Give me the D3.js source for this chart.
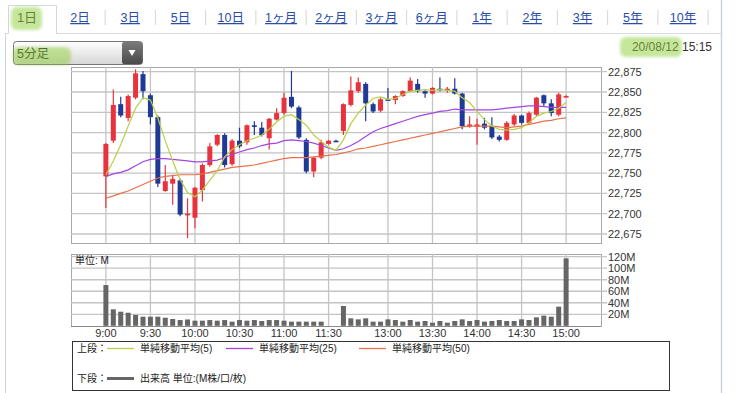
<!DOCTYPE html>
<html>
<head>
<meta charset="utf-8">
<script src="https://cdn.jsdelivr.net/npm/d3@7"></script>
<style>
  body { margin: 0; background: #fff; }
  svg text { font-family: "Liberation Sans", "Noto Sans CJK JP", sans-serif; }
</style>
</head>
<body>
<svg id="chart"></svg>
<script>
// 5 minute bars for 2020/08/12 (slots 30 and 31 are the lunch break)
const times = [
  "9:00","9:05","9:10","9:15","9:20","9:25","9:30","9:35","9:40","9:45","9:50","9:55",
  "10:00","10:05","10:10","10:15","10:20","10:25","10:30","10:35","10:40","10:45","10:50","10:55",
  "11:00","11:05","11:10","11:15","11:20","11:25","11:30","12:25",
  "12:30","12:35","12:40","12:45","12:50","12:55","13:00","13:05","13:10","13:15","13:20","13:25",
  "13:30","13:35","13:40","13:45","13:50","13:55","14:00","14:05","14:10","14:15","14:20","14:25",
  "14:30","14:35","14:40","14:45","14:50","14:55","15:00"
];
const open = [
  22746,22790,22835,22818,22843,22872,22846,22819,22728,22737,22741,22698,
  22695,22729,22760,22785,22797,22761,22790,22788,22809,22806,22793,22816,
  22824,22844,22831,22791,22752,22769,22786,22790,
  22802,22834,22851,22860,22835,22827,22841,22840,22845,22851,22860,22851,
  22848,22854,22852,22854,22848,22807,22807,22811,22808,22795,22791,22810,
  22821,22812,22822,22846,22836,22822,22844.5
];
const high = [
  22787,22853,22844,22847,22878,22876,22848,22821,22760,22748,22743,22719,
  22733,22762,22787,22798,22799,22792,22806,22810,22814,22813,22818,22830,
  22849,22876,22833,22793,22770,22791,22791,22791,
  22836,22869,22868,22862,22837,22843,22855,22846,22852,22868,22866,22852,
  22856,22868,22856,22867,22849,22820,22817,22818,22819,22797,22814,22823,
  22822,22826,22844,22847,22841,22849,22846
];
const low = [
  22707,22787,22819,22814,22841,22841,22810,22733,22727,22711,22697,22670,
  22682,22715,22758,22783,22757,22759,22781,22785,22797,22795,22779,22815,
  22822,22830,22792,22750,22745,22767,22785,22789,
  22797,22832,22849,22814,22824,22825,22839,22835,22844,22850,22849,22843,
  22847,22851,22849,22847,22804,22806,22785,22804,22792,22789,22790,22808,
  22810,22811,22820,22832,22820,22820,22844
];
const close = [
  22786,22834,22821,22845,22873,22851,22819,22737,22740,22743,22699,22700,
  22732,22760,22783,22797,22760,22790,22783,22809,22807,22797,22817,22824,
  22843,22832,22794,22752,22769,22788,22790,22789.5,
  22835,22852,22862,22836,22826,22841,22840,22845,22851,22864,22851,22848,
  22855,22853,22854,22848,22808,22810,22810,22806,22794,22791,22812,22821,
  22812,22824,22843,22836,22824,22847,22845
];
const sma5 = [
  22748,22765,22785,22808,22830,22843,22840,22818,22790,22765,22742,22726,
  22721,22729,22741,22753,22770,22779,22785,22790,22793,22797,22804,22813,
  22820,22822,22816,22809,22797,22789,22782,22778,
  22791,22811,22824,22834,22842,22844,22841,22842,22847,22851,22852,22853,
  22852,22853,22852,22851,22843,22837,22826,22816,22808,22804,22803,22804,
  22806,22812,22820,22824,22826,22830,22837
];
const sma25 = [
  22746,22749,22751,22754,22759,22764,22767,22768,22768,22767,22766,22765,
  22764,22764,22765,22766,22769,22773,22776,22779,22781,22784,22786,22787,
  22790,22791,22790,22789,22787,22784,22781,22778,
  22780,22784,22789,22795,22801,22805,22808,22811,22814,22817,22820,22822,
  22824,22826,22827,22829,22828,22828,22828,22828,22828,22829,22830,22831,
  22832,22833,22833,22832,22831,22831,22831
];
const sma50 = [
  22719,22722,22725,22728,22732,22736,22740,22744,22746,22747,22748,22748,
  22748,22749,22751,22753,22755,22757,22758,22759,22760,22762,22764,22766,
  22768,22769,22769,22769,22770,22771,22772,22773,
  22775,22777,22780,22781,22783,22785,22787,22789,22791,22793,22795,22797,
  22799,22801,22803,22805,22807,22808,22808,22808,22808,22807,22806,22807,
  22808,22810,22812,22814,22815,22817,22818
];
// volume in millions
const volume = [
  70.8,28.6,24.5,22.7,18.8,15.8,15.8,15.8,14,11.8,10,11,
  8.9,8.9,10,8.9,10,7.2,10,8.9,10,8.3,10,10,
  8.9,7.2,7.2,7.2,7.2,7.2,0,0,
  34.4,13,11.2,13,7.2,7.2,11.2,10.1,7.2,10.1,7.2,8.3,
  5.4,8.3,5.4,8.3,11.2,8.3,10.1,7.2,8.3,10.1,8.3,8.3,
  11.2,10.1,14.7,17.6,15.8,33.2,117.2
];

const priceTicks = [22675,22700,22725,22750,22775,22800,22825,22850,22875];
const volTicks = [20,40,60,80,100,120];
const timeTicks = ["9:00","9:30","10:00","10:30","11:00","11:30","13:00","13:30","14:00","14:30","15:00"];
const periods = ["1日","2日","3日","5日","10日","1ヶ月","2ヶ月","3ヶ月","6ヶ月","1年","2年","3年","5年","10年"];
const legendItems = [
  { label: "単純移動平均(5)", color: "#b9cf45" },
  { label: "単純移動平均(25)", color: "#a346e0" },
  { label: "単純移動平均(50)", color: "#e8704a" }
];

const svgWidth = 739;
const svgHeight = 393;
const plot = { left: 71, right: 601, top: 67, bottom: 243 };
const vplot = { top: 254, bottom: 326 };
const gridColor = "#c4c4c4";
const upColor = "#e8333d";
const downColor = "#1f3a96";

const svg = d3.select("#chart").attr("width", svgWidth).attr("height", svgHeight);

const defs = svg.append("defs");
const grad = defs.append("linearGradient").attr("id", "dd").attr("x1", 0).attr("x2", 0).attr("y1", 0).attr("y2", 1);
grad.append("stop").attr("offset", "0%").attr("stop-color", "#ffffff");
grad.append("stop").attr("offset", "100%").attr("stop-color", "#d6d6d6");
const btnGrad = defs.append("linearGradient").attr("id", "btn").attr("x1", 0).attr("x2", 0).attr("y1", 0).attr("y2", 1);
btnGrad.append("stop").attr("offset", "0%").attr("stop-color", "#7a7a7a");
btnGrad.append("stop").attr("offset", "100%").attr("stop-color", "#4a4a4a");
defs.append("filter").attr("id", "soft").append("feGaussianBlur").attr("stdDeviation", 1.6);

// ---- page frame and tabs ----
svg.append("rect").attr("x", 0).attr("y", 0).attr("width", svgWidth).attr("height", svgHeight).attr("fill", "#fff");
svg.append("line").attr("x1", 5.5).attr("x2", 5.5).attr("y1", 33).attr("y2", svgHeight).attr("stroke", "#c9d3de");
svg.append("line").attr("x1", 721.5).attr("x2", 721.5).attr("y1", 0).attr("y2", svgHeight).attr("stroke", "#c9d3de").attr("stroke-width", 1.5);
svg.append("line").attr("x1", 56).attr("x2", 721).attr("y1", 33.5).attr("y2", 33.5).attr("stroke", "#d8dfe6");
svg.append("path")
  .attr("d", "M5.5,33.5 L8.5,33.5 L8.5,5.5 L56.5,5.5 L56.5,33.5")
  .attr("fill", "none").attr("stroke", "#d0d8e0");

const tabX = d3.scalePoint().domain(periods.slice(1)).range([80, 683]);
svg.append("text").attr("x", 27).attr("y", 22).attr("text-anchor", "middle")
  .attr("font-size", 13).attr("fill", "#333").text(periods[0]);
svg.selectAll(".tab").data(periods.slice(1)).enter().append("text")
  .attr("class", "tab")
  .attr("x", (d) => tabX(d)).attr("y", 22).attr("text-anchor", "middle")
  .attr("font-size", 12.5).attr("fill", "#2a4ea8")
  .attr("text-decoration", "underline").text((d) => d);
svg.selectAll(".sep").data(periods.slice(1)).enter().append("line")
  .attr("class", "sep")
  .attr("x1", (d) => tabX(d) + tabX.step() / 2).attr("x2", (d) => tabX(d) + tabX.step() / 2)
  .attr("y1", 10).attr("y2", 25).attr("stroke", "#d5d5d5");

// dropdown
svg.append("rect").attr("x", 13.5).attr("y", 41.5).attr("width", 129).attr("height", 23).attr("rx", 3)
  .attr("fill", "url(#dd)").attr("stroke", "#777");
svg.append("rect").attr("x", 122).attr("y", 42).attr("width", 20.5).attr("height", 22).attr("rx", 2)
  .attr("fill", "url(#btn)");
svg.append("path").attr("d", "M128.5,50 L135.5,50 L132,56 Z").attr("fill", "#fff");
svg.append("text").attr("x", 17).attr("y", 58).attr("font-size", 12.5).attr("fill", "#222").text("5分足");

svg.append("text").attr("x", 712).attr("y", 51).attr("text-anchor", "end")
  .attr("font-size", 12).attr("fill", "#333").text("20/08/12 15:15");

// ---- scales ----
const x = d3.scalePoint().domain(times).range([plot.left, plot.right]).padding(4.7);
const y = d3.scaleLinear().domain([22675, 22875]).range([234, 71.7]);
const yv = d3.scaleLinear().domain([0, 120]).range([325.8, 256.7]);
const bodyW = 5;

// ---- price panel grid ----
const gp = svg.append("g");
gp.append("rect").attr("x", plot.left + 0.5).attr("y", plot.top + 0.5)
  .attr("width", plot.right - plot.left).attr("height", plot.bottom - plot.top)
  .attr("fill", "#fff").attr("stroke", "#a8a8a8");
gp.selectAll(".hgrid").data(priceTicks).enter().append("line")
  .attr("x1", plot.left).attr("x2", plot.right + 6)
  .attr("y1", (d) => y(d)).attr("y2", (d) => y(d))
  .attr("stroke", gridColor).attr("stroke-width", 1.3);
gp.selectAll(".vgrid").data(timeTicks).enter().append("line")
  .attr("x1", (d) => x(d)).attr("x2", (d) => x(d))
  .attr("y1", plot.top).attr("y2", plot.bottom)
  .attr("stroke", gridColor).attr("stroke-width", 1.3);
gp.selectAll(".ylab").data(priceTicks).enter().append("text")
  .attr("x", plot.right + 7).attr("y", (d) => y(d) + 4)
  .attr("font-size", 11).attr("fill", "#333")
  .text((d) => d3.format(",")(d));

// ---- candles ----
const bars = times.map((t, i) => ({ t, o: open[i], h: high[i], l: low[i], c: close[i] }));
const cg = svg.append("g");
cg.selectAll(".wick").data(bars).enter().append("line")
  .attr("x1", (d) => x(d.t)).attr("x2", (d) => x(d.t))
  .attr("y1", (d) => y(d.h)).attr("y2", (d) => y(d.l))
  .attr("stroke", (d) => (d.c >= d.o ? upColor : downColor)).attr("stroke-width", 1.2);
cg.selectAll(".body").data(bars).enter().append("rect")
  .attr("x", (d) => x(d.t) - bodyW / 2)
  .attr("y", (d) => y(Math.max(d.o, d.c)))
  .attr("width", bodyW)
  .attr("height", (d) => Math.max(1.6, Math.abs(y(d.o) - y(d.c))))
  .attr("fill", (d) => (d.c >= d.o ? upColor : downColor));

// ---- moving averages ----
const line = d3.line().x((d, i) => x(times[i])).y((d) => y(d));
[sma50, sma25, sma5].forEach((s, k) => {
  svg.append("path").datum(s)
    .attr("d", line)
    .attr("fill", "none")
    .attr("stroke", legendItems[2 - k].color)
    .attr("stroke-width", 1.2);
});

// ---- volume panel ----
const gv = svg.append("g");
gv.append("rect").attr("x", plot.left + 0.5).attr("y", vplot.top + 0.5)
  .attr("width", plot.right - plot.left).attr("height", vplot.bottom - vplot.top)
  .attr("fill", "#fff").attr("stroke", "#a8a8a8");
gv.selectAll(".vh").data(volTicks).enter().append("line")
  .attr("x1", plot.left).attr("x2", plot.right + 6)
  .attr("y1", (d) => yv(d)).attr("y2", (d) => yv(d))
  .attr("stroke", gridColor).attr("stroke-width", 1.3);
gv.selectAll(".vv").data(timeTicks).enter().append("line")
  .attr("x1", (d) => x(d)).attr("x2", (d) => x(d))
  .attr("y1", vplot.top).attr("y2", vplot.bottom)
  .attr("stroke", gridColor).attr("stroke-width", 1.3);
gv.selectAll(".vlab").data(volTicks).enter().append("text")
  .attr("x", plot.right + 7).attr("y", (d) => yv(d) + 4)
  .attr("font-size", 11).attr("fill", "#333")
  .text((d) => d + "M");
gv.selectAll(".vbar").data(volume).enter().append("rect")
  .attr("x", (d, i) => x(times[i]) - bodyW / 2)
  .attr("y", (d) => yv(d))
  .attr("width", bodyW)
  .attr("height", (d) => yv(0) - yv(d))
  .attr("fill", "#666");
gv.append("line").attr("x1", plot.left).attr("x2", plot.right).attr("y1", vplot.bottom + 0.5).attr("y2", vplot.bottom + 0.5)
  .attr("stroke", "#888");
gv.append("text").attr("x", 75).attr("y", 264).attr("font-size", 10).attr("fill", "#222").text("単位: M");

// time axis labels
svg.selectAll(".xlab").data(timeTicks).enter().append("text")
  .attr("x", (d) => x(d)).attr("y", 337).attr("text-anchor", "middle")
  .attr("font-size", 11).attr("fill", "#333").text((d) => d);

// ---- legend ----
const lg = svg.append("g");
lg.append("rect").attr("x", 72.5).attr("y", 341.5).attr("width", 597).attr("height", 49)
  .attr("fill", "#fff").attr("stroke", "#333");
lg.append("text").attr("x", 77).attr("y", 352).attr("font-size", 10).attr("fill", "#222").text("上段：");
const legX = [107, 226, 359];
legendItems.forEach((d, i) => {
  lg.append("line").attr("x1", legX[i]).attr("x2", legX[i] + 27).attr("y1", 348.5).attr("y2", 348.5)
    .attr("stroke", d.color).attr("stroke-width", 1.3);
  lg.append("text").attr("x", legX[i] + 33).attr("y", 352).attr("font-size", 10).attr("fill", "#222").text(d.label);
});
lg.append("text").attr("x", 77).attr("y", 382).attr("font-size", 10).attr("fill", "#222").text("下段：");
lg.append("line").attr("x1", 107).attr("x2", 134).attr("y1", 378.5).attr("y2", 378.5)
  .attr("stroke", "#666").attr("stroke-width", 3);
lg.append("text").attr("x", 140).attr("y", 382).attr("font-size", 10).attr("fill", "#222").text("出来高 単位:(M株/口/枚)");

// ---- highlighter marks ----
const marks = svg.append("g").attr("filter", "url(#soft)").attr("opacity", 0.5);
marks.append("rect").attr("x", 11).attr("y", 7).attr("width", 31).attr("height", 23).attr("rx", 6).attr("fill", "#8fcf3a");
marks.append("rect").attr("x", 13).attr("y", 47).attr("width", 58).attr("height", 18).attr("rx", 6).attr("fill", "#8fcf3a");
marks.append("rect").attr("x", 620).attr("y", 37).attr("width", 62).attr("height", 20).attr("rx", 6).attr("fill", "#8fcf3a");
</script>
</body>
</html>
